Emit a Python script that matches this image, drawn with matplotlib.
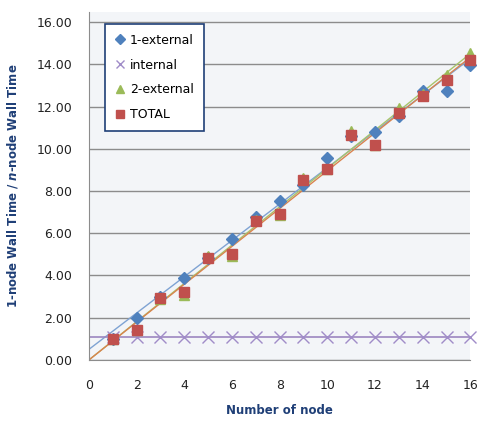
import numpy as np
import matplotlib
matplotlib.use("Agg")
import matplotlib.pyplot as plt

# data
nodes = list(range(1, 17))
ext1 = [1.0, 2.0, 3.0, 3.9, 4.85, 5.75, 6.75, 7.55, 8.3, 9.55, 10.6, 10.8, 11.55, 12.75, 12.75, 13.95]
internal = [1.1, 1.1, 1.1, 1.1, 1.1, 1.1, 1.1, 1.1, 1.1, 1.1, 1.1, 1.1, 1.1, 1.1, 1.1, 1.1]
ext2 = [1.0, 1.4, 2.9, 3.1, 4.9, 4.9, 6.65, 6.85, 8.6, 9.05, 10.85, 10.2, 11.95, 12.6, 13.5, 14.55]
total = [1.0, 1.4, 2.95, 3.2, 4.85, 5.0, 6.6, 6.9, 8.5, 9.05, 10.65, 10.2, 11.7, 12.5, 13.25, 14.2]

x = np.array(nodes, dtype=float)
xl = np.array([0, 16])

fig = plt.figure(figsize=(4.78, 4.21), dpi=100)
ax = fig.add_axes([0.186, 0.145, 0.798, 0.826])
ax.set_facecolor('#f3f5f8')

# trend lines (Excel style)
b1 = np.polyfit(x, ext1, 1)
ax.plot(xl, np.polyval(b1, xl), color='#7fa3d3', lw=1.0, zorder=2)
ax.plot(xl, [np.mean(internal)] * 2, color='#9c86c0', lw=1.2, zorder=2)
k2 = np.sum(x * np.array(ext2)) / np.sum(x * x)
ax.plot(xl, k2 * xl, color='#a9c46c', lw=1.0, zorder=2)
kt = np.sum(x * np.array(total)) / np.sum(x * x)
ax.plot(xl, kt * xl, color='#d9844f', lw=1.0, zorder=2)

ax.plot(nodes, ext1, 'D', color='#4f81bd', ms=6, ls='none', label='1-external', zorder=3, clip_on=False)
ax.plot(nodes, internal, 'x', color='#a08cc8', ms=8, mew=1.0, ls='none', label='internal', zorder=3, clip_on=False)
ax.plot(nodes, ext2, '^', color='#9bbb59', ms=7, ls='none', label='2-external', zorder=3, clip_on=False)
ax.plot(nodes, total, 's', color='#c0504d', ms=7.5, ls='none', label='TOTAL', zorder=4, clip_on=False)

ax.set_xlim(0, 16)
ax.set_ylim(0, 16.47)
ax.set_xticks(range(0, 17, 2))
ax.set_yticks(range(0, 17, 2))
ax.set_yticklabels([f'{v:.2f}' for v in range(0, 17, 2)])
ax.grid(axis='y', color='#8c8c8c', lw=1.0)
ax.set_axisbelow(True)
for s in ['top', 'right']:
    ax.spines[s].set_visible(False)
ax.spines['left'].set_color('#8c8c8c')
ax.spines['bottom'].set_color('#8c8c8c')
ax.tick_params(length=0, labelsize=9, colors='#222222')
ax.tick_params(axis='y', pad=12)
ax.tick_params(axis='x', pad=14)

ax.set_xlabel('Number of node', fontsize=8.5, fontweight='bold', color='#1f3f77', labelpad=8)
ax.set_ylabel('1-node Wall Time / $\\mathbfit{n}$-node Wall Time', fontsize=8.5,
              fontweight='bold', color='#1f3f77', labelpad=12)

leg = ax.legend(loc='upper left', bbox_to_anchor=(0.025, 0.985), frameon=True, fancybox=False,
                edgecolor='#1f3f77', facecolor='white', fontsize=9, handlelength=0.9,
                handletextpad=0.3, labelspacing=0.95, borderpad=0.8, framealpha=1,
                markerscale=0.8)
leg.get_frame().set_linewidth(1.2)

fig.savefig('out.png', dpi=100)
